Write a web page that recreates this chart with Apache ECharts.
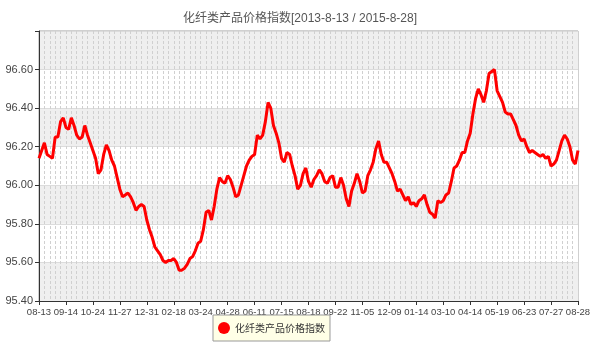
<!DOCTYPE html>
<html>
<head>
<meta charset="utf-8">
<script src="https://cdn.jsdelivr.net/npm/echarts@6/dist/echarts.min.js"></script>
<style>html,body{margin:0;padding:0;background:#fff}#c{width:600px;height:350px}</style>
</head>
<body>
<div id="c"></div>
<script>
var titleText = '化纤类产品价格指数[2013-8-13 / 2015-8-28]';
var seriesName = '化纤类产品价格指数';
var tickLabels = ['08-13','09-14','10-24','11-27','12-31','02-18','03-24','04-28','06-11','07-15','08-18','09-22','11-05','12-09','01-14','03-10','04-14','05-19','06-23','07-27','08-28'];
var pointsPerLabel = 10;
var values = [
96.14,96.18,96.22,96.16,96.15,96.14,96.25,96.25,96.33,96.35,
96.30,96.29,96.35,96.31,96.26,96.24,96.25,96.31,96.26,96.22,
96.18,96.14,96.06,96.08,96.16,96.21,96.18,96.13,96.10,96.04,
95.98,95.94,95.95,95.96,95.94,95.91,95.87,95.89,95.90,95.89,
95.82,95.77,95.73,95.68,95.66,95.64,95.61,95.60,95.61,95.61,
95.62,95.60,95.56,95.56,95.57,95.59,95.62,95.63,95.66,95.70,
95.71,95.77,95.86,95.87,95.82,95.89,95.98,96.04,96.02,96.01,
96.05,96.03,95.99,95.94,95.95,96.00,96.05,96.10,96.13,96.15,
96.16,96.26,96.24,96.26,96.33,96.43,96.40,96.31,96.27,96.22,
96.14,96.12,96.17,96.16,96.10,96.05,95.98,96.00,96.06,96.09,
96.02,95.99,96.03,96.05,96.08,96.06,96.02,96.01,96.04,96.05,
95.99,95.99,96.04,96.00,95.93,95.89,95.97,96.01,96.06,96.02,
95.96,95.97,96.05,96.08,96.12,96.19,96.23,96.16,96.12,96.12,
96.09,96.06,96.02,95.97,95.98,95.95,95.92,95.94,95.90,95.91,
95.89,95.92,95.93,95.95,95.90,95.86,95.85,95.83,95.92,95.91,
95.92,95.95,95.96,96.02,96.09,96.10,96.13,96.17,96.17,96.23,
96.27,96.37,96.45,96.50,96.47,96.43,96.49,96.58,96.59,96.60,
96.49,96.46,96.43,96.38,96.37,96.37,96.34,96.31,96.26,96.23,
96.24,96.20,96.17,96.18,96.17,96.16,96.15,96.16,96.14,96.15,
96.10,96.11,96.13,96.18,96.23,96.26,96.24,96.20,96.13,96.11,
96.18
];
var yMin = 95.4, yMax = 96.8, yStep = 0.2;

var data = values.map(function (v, i) { return [i, v]; });
var chart = echarts.init(document.getElementById('c'), null, {renderer: 'canvas'});
chart.setOption({
  animation: false,
  backgroundColor: '#ffffff',
  title: {
    text: titleText, left: 'center', top: 8,
    textStyle: {fontSize: 12, fontWeight: 'normal', color: '#555', fontFamily: 'Liberation Sans, Noto Sans CJK SC, sans-serif'}
  },
  grid: {left: 39, right: 22, top: 31, bottom: 49, show: true, borderColor: '#a0a0a0', borderWidth: 1, backgroundColor: 'transparent'},
  legend: {
    top: 315, left: 213,
    data: [{name: seriesName, icon: 'circle'}],
    backgroundColor: '#ffffe6', borderColor: '#999', borderWidth: 1, borderRadius: 0,
    padding: [7, 5, 7, 5], itemWidth: 12, itemHeight: 12, itemGap: 4,
    textStyle: {fontSize: 10, color: '#333', fontFamily: 'Noto Sans CJK SC, sans-serif'}
  },
  xAxis: {
    type: 'value', min: 0, max: (tickLabels.length - 1) * pointsPerLabel, interval: pointsPerLabel,
    axisLine: {show: true, lineStyle: {color: '#333', width: 1}},
    axisTick: {show: true, length: 4, lineStyle: {color: '#333'}},
    axisLabel: {
      fontSize: 9.5, color: '#444', margin: 6, fontFamily: 'Liberation Sans, sans-serif',
      formatter: function (v) { var k = Math.round(v / pointsPerLabel); return tickLabels[k] || ''; },
      showMinLabel: true, showMaxLabel: true
    },
    splitLine: {show: true, lineStyle: {color: '#d0d0d0', type: [3, 2], width: 1}},
    minorTick: {show: false, splitNumber: 5},
    minorSplitLine: {show: true, lineStyle: {color: '#d0d0d0', type: [3, 2], width: 1}}
  },
  yAxis: {
    type: 'value', min: yMin, max: yMax, interval: yStep,
    axisLine: {show: true, lineStyle: {color: '#333', width: 1}},
    axisTick: {show: true, length: 4, lineStyle: {color: '#333'}},
    axisLabel: {
      fontSize: 11, color: '#444', margin: 6, fontFamily: 'Liberation Sans, sans-serif',
      formatter: function (v) { return v > yMax - 0.01 ? '' : v.toFixed(2); }
    },
    splitLine: {show: true, lineStyle: {color: '#dcdcdc', width: 1}},
    splitArea: {show: true, areaStyle: {color: ['#efefef', '#ffffff']}}
  },
  series: [{
    name: seriesName, type: 'line', data: data,
    showSymbol: false, symbol: 'circle',
    lineStyle: {color: '#ff0000', width: 3},
    itemStyle: {color: '#ff0000'}
  }]
});
</script>
</body>
</html>
